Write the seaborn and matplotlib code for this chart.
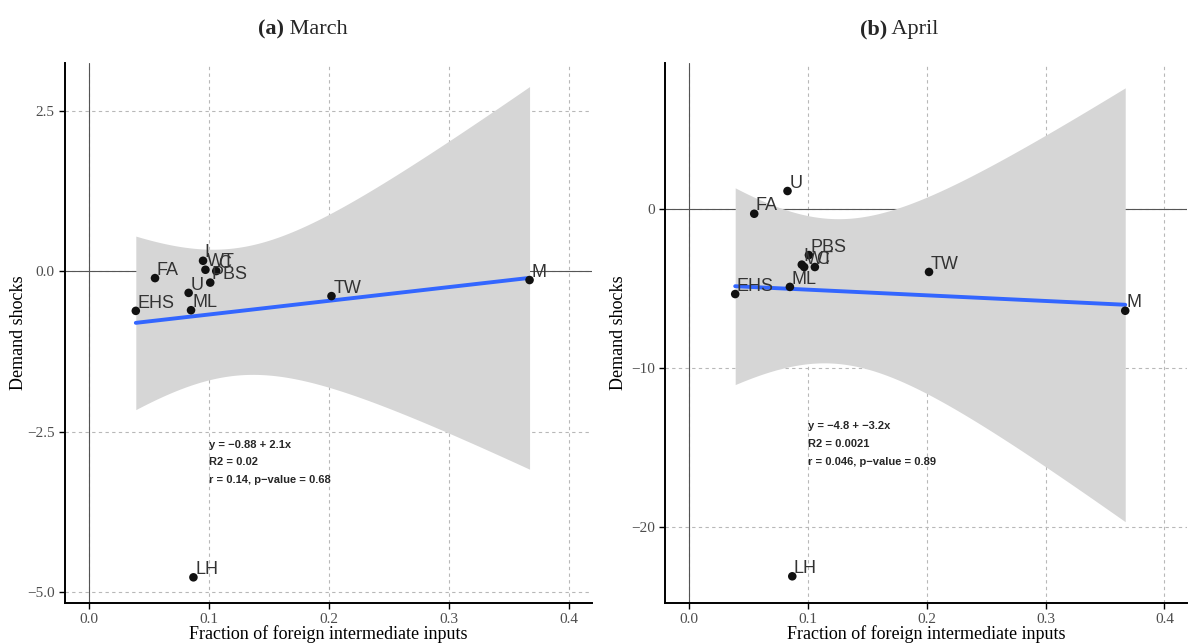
import numpy as np
import matplotlib
matplotlib.use("Agg")
import matplotlib.pyplot as plt
import seaborn as sns

# Sector data
sectors = ["FA", "EHS", "U", "ML", "LH", "M", "TW", "I", "WT", "C", "PBS"]
foreign_share = [0.055, 0.039, 0.083, 0.085, 0.087, 0.367, 0.202, 0.095, 0.097, 0.106, 0.101]
shock_march = [-0.11, -0.62, -0.34, -0.61, -4.77, -0.14, -0.39, 0.16, 0.02, 0.00, -0.18]
shock_april = [-0.30, -5.35, 1.13, -4.90, -23.1, -6.40, -3.96, -3.50, -3.65, -3.65, -2.90]

stats_march = ["y = \u22120.88 + 2.1x", "R2 = 0.02", "r = 0.14, p\u2212value = 0.68"]
stats_april = ["y = \u22124.8 + \u22123.2x", "R2 = 0.0021", "r = 0.046, p\u2212value = 0.89"]

x_ticks = [0.0, 0.1, 0.2, 0.3, 0.4]
y_ticks_march = [2.5, 0.0, -2.5, -5.0]
y_ticks_april = [0, -10, -20]

sns.set_theme(style="white")
plt.rcParams["font.family"] = ["Liberation Serif", "DejaVu Serif"]
plt.rcParams["axes.unicode_minus"] = True

fig = plt.figure(figsize=(11.88, 6.43), dpi=100)
ax_a = fig.add_axes([0.0547, 0.0622, 0.4436, 0.8398])
ax_b = fig.add_axes([0.5598, 0.0622, 0.4394, 0.8398])


def ols_band(x, y, n_pts=200):
    x = np.asarray(x)
    y = np.asarray(y)
    n = len(x)
    slope, intercept = np.polyfit(x, y, 1)
    resid = y - (intercept + slope * x)
    s = np.sqrt(np.sum(resid ** 2) / (n - 2))
    xs = np.linspace(x.min(), x.max(), n_pts)
    ys = intercept + slope * xs
    sxx = np.sum((x - x.mean()) ** 2)
    se = s * np.sqrt(1.0 / n + (xs - x.mean()) ** 2 / sxx)
    t = 2.262  # t quantile, 9 df, 95%
    return xs, ys, ys - t * se, ys + t * se


def panel(ax, y, yticks, ylim, stats, stats_y, stats_dy, fmt):
    ax.set_xlim(-0.02, 0.419)
    ax.set_ylim(*ylim)
    ax.set_xticks(x_ticks)
    ax.set_yticks(yticks)
    ax.set_xticklabels([f"{v:.1f}" for v in x_ticks])
    ax.set_yticklabels([fmt(v) for v in yticks])
    ax.grid(True, color="#b8b8b8", linestyle=(0, (3, 3)), linewidth=0.8)
    ax.set_axisbelow(True)
    ax.axhline(0, color="#555555", linewidth=0.8, zorder=1)
    ax.axvline(0, color="#555555", linewidth=0.8, zorder=1)

    xs, ys, lo, hi = ols_band(foreign_share, y)
    ax.fill_between(xs, lo, hi, color="#d6d6d6", linewidth=0, zorder=2)
    sns.lineplot(x=xs, y=ys, ax=ax, color="#3366FF", linewidth=2.8, zorder=3)
    sns.scatterplot(x=foreign_share, y=y, ax=ax, color="#111111", s=38,
                    edgecolor="none", zorder=4)
    for xv, yv, lab in zip(foreign_share, y, sectors):
        ax.annotate(lab, (xv, yv), xytext=(1.2, 2.4), textcoords="offset points",
                    ha="left", va="baseline", fontsize=13, color="#333333",
                    family=["Liberation Sans", "DejaVu Sans"], zorder=5)

    for i, line in enumerate(stats):
        ax.text(0.1, stats_y - i * stats_dy, line, fontsize=8,
                fontweight="bold", family=["Liberation Sans", "DejaVu Sans"],
                va="center", ha="left", zorder=6)

    for side in ["top", "right"]:
        ax.spines[side].set_visible(False)
    for side in ["left", "bottom"]:
        ax.spines[side].set_color("black")
        ax.spines[side].set_linewidth(1.4)
    ax.tick_params(axis="both", which="both", length=4, width=1, color="black",
                   labelsize=11, labelcolor="#4d4d4d", left=True, bottom=True)
    ax.set_xlabel("Fraction of foreign intermediate inputs", fontsize=13, color="black",
                  va="baseline")
    ax.xaxis.set_label_coords(0.5, -0.066)
    ax.set_ylabel("Demand shocks", fontsize=13, color="black")
    ax.yaxis.set_label_coords(-0.073, 0.5)


def title(tag, txt, xc):
    t1 = fig.text(xc, 1 - 34 / 643, tag, fontsize=16, fontweight="bold",
                  ha="left", va="baseline")
    t2 = fig.text(xc, 1 - 34 / 643, " " + txt, fontsize=16, ha="left", va="baseline")
    r = fig.canvas.get_renderer()
    w1 = t1.get_window_extent(r).width / fig.bbox.width
    w2 = t2.get_window_extent(r).width / fig.bbox.width
    x0 = xc - (w1 + w2) / 2
    t1.set_x(x0)
    t2.set_x(x0 + w1)


panel(ax_a, shock_march, y_ticks_march, (-5.17, 3.24), stats_march, -2.71, 0.27,
      lambda v: f"{v:.1f}".replace("-", "\u2212"))
panel(ax_b, shock_april, y_ticks_april, (-24.78, 9.18), stats_april, -13.65, 1.12,
      lambda v: f"{v:.0f}".replace("-", "\u2212"))

title("(a)", "March", 303 / 1188)
title("(b)", "April", 899 / 1188)

fig.savefig("out.png", dpi=100)
